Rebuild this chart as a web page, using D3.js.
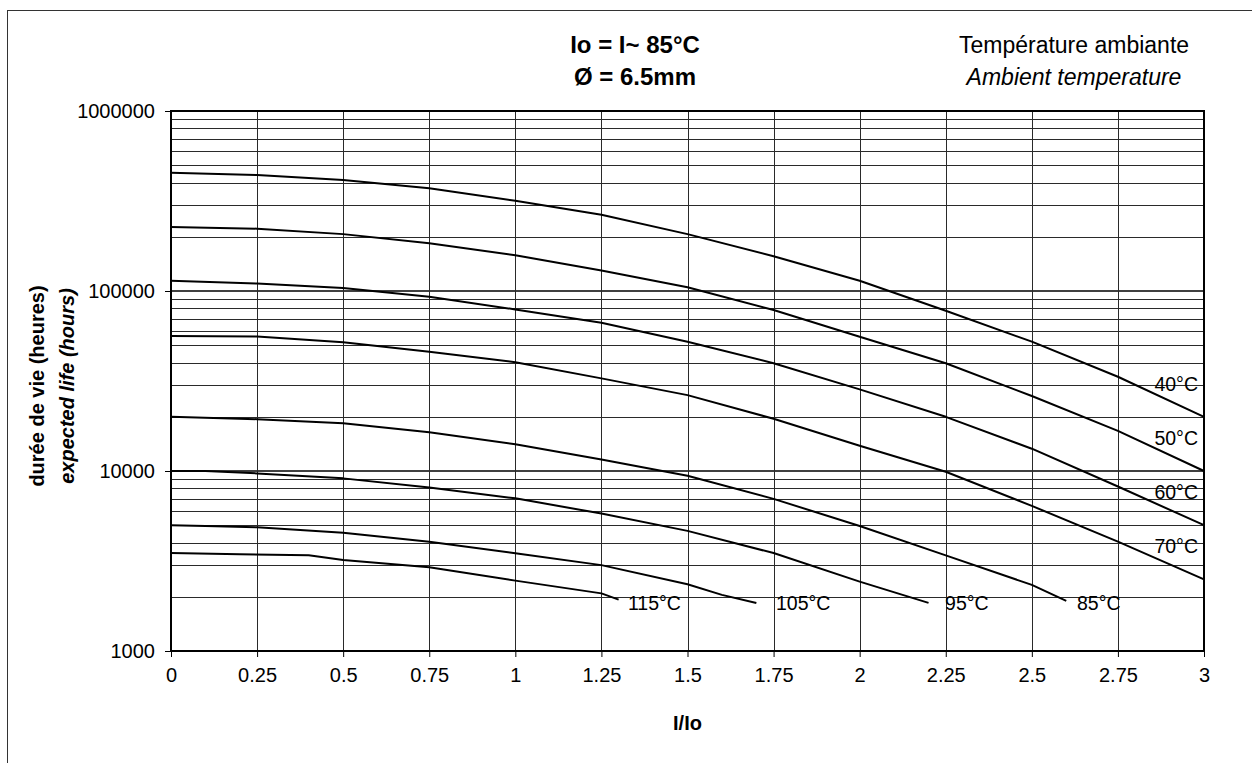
<!DOCTYPE html>
<html><head><meta charset="utf-8">
<script src="https://cdn.jsdelivr.net/npm/d3@7"></script>
<style>
body{margin:0;background:#fff}
text{font-family:"Liberation Sans",Arial,Helvetica,sans-serif;fill:#000}
</style>
</head><body>
<svg id="chart" width="1252" height="763"></svg>
<script>
// ---- data ----
const xTicks = [0,0.25,0.5,0.75,1,1.25,1.5,1.75,2,2.25,2.5,2.75,3];
const xTickLabels = ["0","0.25","0.5","0.75","1","1.25","1.5","1.75","2","2.25","2.5","2.75","3"];
const yTicks = [1000,10000,100000,1000000];
const yTickLabels = ["1000","10000","100000","1000000"];

const xFull = [0,0.25,0.5,0.75,1,1.25,1.5,1.75,2,2.25,2.5,2.75,3];
const life40 = [454000,441000,414000,372000,317000,265000,207000,156000,114000,77700,52300,33400,20000];
const life50 = [227000,222000,207000,184000,158000,130000,105000,78400,55700,39700,26100,16700,10000];
const life60 = [114000,110000,104000,93000,79000,66700,52300,39700,28400,20000,13300,8200,5000];
const life70 = [56200,55800,51900,46000,40200,32700,26400,19500,13800,9900,6400,4050,2500];

const x85 = [0,0.25,0.5,0.75,1,1.25,1.5,1.75,2,2.25,2.5,2.6];
const life85 = [20000,19400,18400,16400,14100,11600,9400,7000,4950,3400,2330,1900];
const x95 = [0,0.1,0.25,0.5,0.75,1,1.25,1.5,1.75,2,2.2];
const life95 = [10000,10000,9700,9100,8100,7050,5800,4650,3500,2430,1850];
const x105 = [0,0.1,0.25,0.5,0.75,1,1.25,1.5,1.6,1.7];
const life105 = [5000,4950,4870,4540,4050,3490,3000,2350,2050,1850];
const x115 = [0,0.2,0.4,0.5,0.75,1,1.25,1.3];
const life115 = [3500,3450,3400,3200,2920,2460,2090,1930];

const rightLabels = ["40°C","50°C","60°C","70°C"];
const rightLabelY = [28000,14000,7000,3500];
const bottomLabels = ["85°C","95°C","105°C","115°C"];
const bottomLabelX = [2.631,2.248,1.757,1.327];
const bottomLabelY = 1690;

const titleLines = ["Io = I~ 85°C","Ø = 6.5mm"];
const legendLines = ["Température ambiante","Ambient temperature"];
const yTitleLines = ["durée de vie (heures)","expected life (hours)"];
const xTitle = "I/Io";

// ---- layout ----
const L = 171, R = 1204, T = 111, B = 651;
const svg = d3.select("#chart");
const x = d3.scaleLinear().domain([0,3]).range([L,R]);
const y = d3.scaleLog().domain([1000,1000000]).range([B,T]);

// outer frame
svg.append("rect").attr("x",7.5).attr("y",10.5).attr("width",1300).attr("height",800)
  .attr("fill","#fff").attr("stroke","#333").attr("stroke-width",1);

// minor horizontal gridlines
const minor = [];
for (let e = 3; e < 6; e++) for (let m = 2; m <= 9; m++) minor.push(m*Math.pow(10,e));
svg.append("g").selectAll("line").data(minor).join("line")
  .attr("x1",L).attr("x2",R).attr("y1",d=>Math.round(y(d))+0.5).attr("y2",d=>Math.round(y(d))+0.5)
  .attr("stroke","#2a2a2a").attr("stroke-width",1);
// major horizontal gridlines
svg.append("g").selectAll("line").data(yTicks).join("line")
  .attr("x1",L).attr("x2",R).attr("y1",d=>y(d)).attr("y2",d=>y(d))
  .attr("stroke","#000").attr("stroke-width",1.5);
// vertical gridlines
svg.append("g").selectAll("line").data(xTicks).join("line")
  .attr("x1",d=>Math.round(x(d))+0.5).attr("x2",d=>Math.round(x(d))+0.5).attr("y1",T).attr("y2",B)
  .attr("stroke","#2a2a2a").attr("stroke-width",1);

// plot border
svg.append("rect").attr("x",L).attr("y",T).attr("width",R-L).attr("height",B-T)
  .attr("fill","none").attr("stroke","#000").attr("stroke-width",2);

// axes
const xAxis = d3.axisBottom(x).tickValues(xTicks).tickFormat((d,i)=>xTickLabels[i]).tickSize(6).tickPadding(11);
const gx = svg.append("g").attr("transform",`translate(0,${B})`).call(xAxis);
gx.select(".domain").remove();
gx.selectAll("line").attr("stroke","#000");
gx.selectAll("text").attr("font-size",20).attr("font-family","Liberation Sans, Arial, sans-serif");

const yAxis = d3.axisLeft(y).tickValues(yTicks).tickFormat((d,i)=>yTickLabels[i]).tickSize(6).tickPadding(10);
const gy = svg.append("g").attr("transform",`translate(${L},0)`).call(yAxis);
gy.select(".domain").remove();
gy.selectAll("line").attr("stroke","#000");
gy.selectAll("text").attr("font-size",20).attr("font-family","Liberation Sans, Arial, sans-serif");

// curves
const series = [
  [xFull,life40],[xFull,life50],[xFull,life60],[xFull,life70],
  [x85,life85],[x95,life95],[x105,life105],[x115,life115]
];
const line = d3.line().x(d=>x(d[0])).y(d=>y(d[1]));
svg.append("g").selectAll("path").data(series).join("path")
  .attr("d",s=>line(s[0].map((v,i)=>[v,s[1][i]])))
  .attr("fill","none").attr("stroke","#000").attr("stroke-width",2).attr("stroke-linejoin","round");

// curve labels
svg.append("g").selectAll("text").data(rightLabels).join("text")
  .attr("x",x(3)-6).attr("y",(d,i)=>y(rightLabelY[i])).attr("text-anchor","end")
  .attr("font-size",19.5).text(d=>d);
svg.append("g").selectAll("text").data(bottomLabels).join("text")
  .attr("x",(d,i)=>x(bottomLabelX[i])).attr("y",y(bottomLabelY))
  .attr("font-size",19.5).text(d=>d);

// titles
svg.append("g").selectAll("text").data(titleLines).join("text")
  .attr("x",635).attr("y",(d,i)=>53+i*32).attr("text-anchor","middle")
  .attr("font-size",24).attr("font-weight","bold").text(d=>d);
svg.append("g").selectAll("text").data(legendLines).join("text")
  .attr("x",1074).attr("y",(d,i)=>53+i*32).attr("text-anchor","middle")
  .attr("font-size",23).attr("font-style",(d,i)=>i===1?"italic":"normal").text(d=>d);

// axis titles
svg.append("text").attr("x",(L+R)/2).attr("y",730).attr("text-anchor","middle")
  .attr("font-size",20).attr("font-weight","bold").text(xTitle);
svg.append("g").selectAll("text").data(yTitleLines).join("text")
  .attr("transform",(d,i)=>`translate(${44+i*30},${(T+B)/2+5}) rotate(-90)`)
  .attr("text-anchor","middle").attr("font-size",20).attr("font-weight","bold")
  .attr("font-style",(d,i)=>i===1?"italic":"normal").text(d=>d);
</script>
</body></html>
